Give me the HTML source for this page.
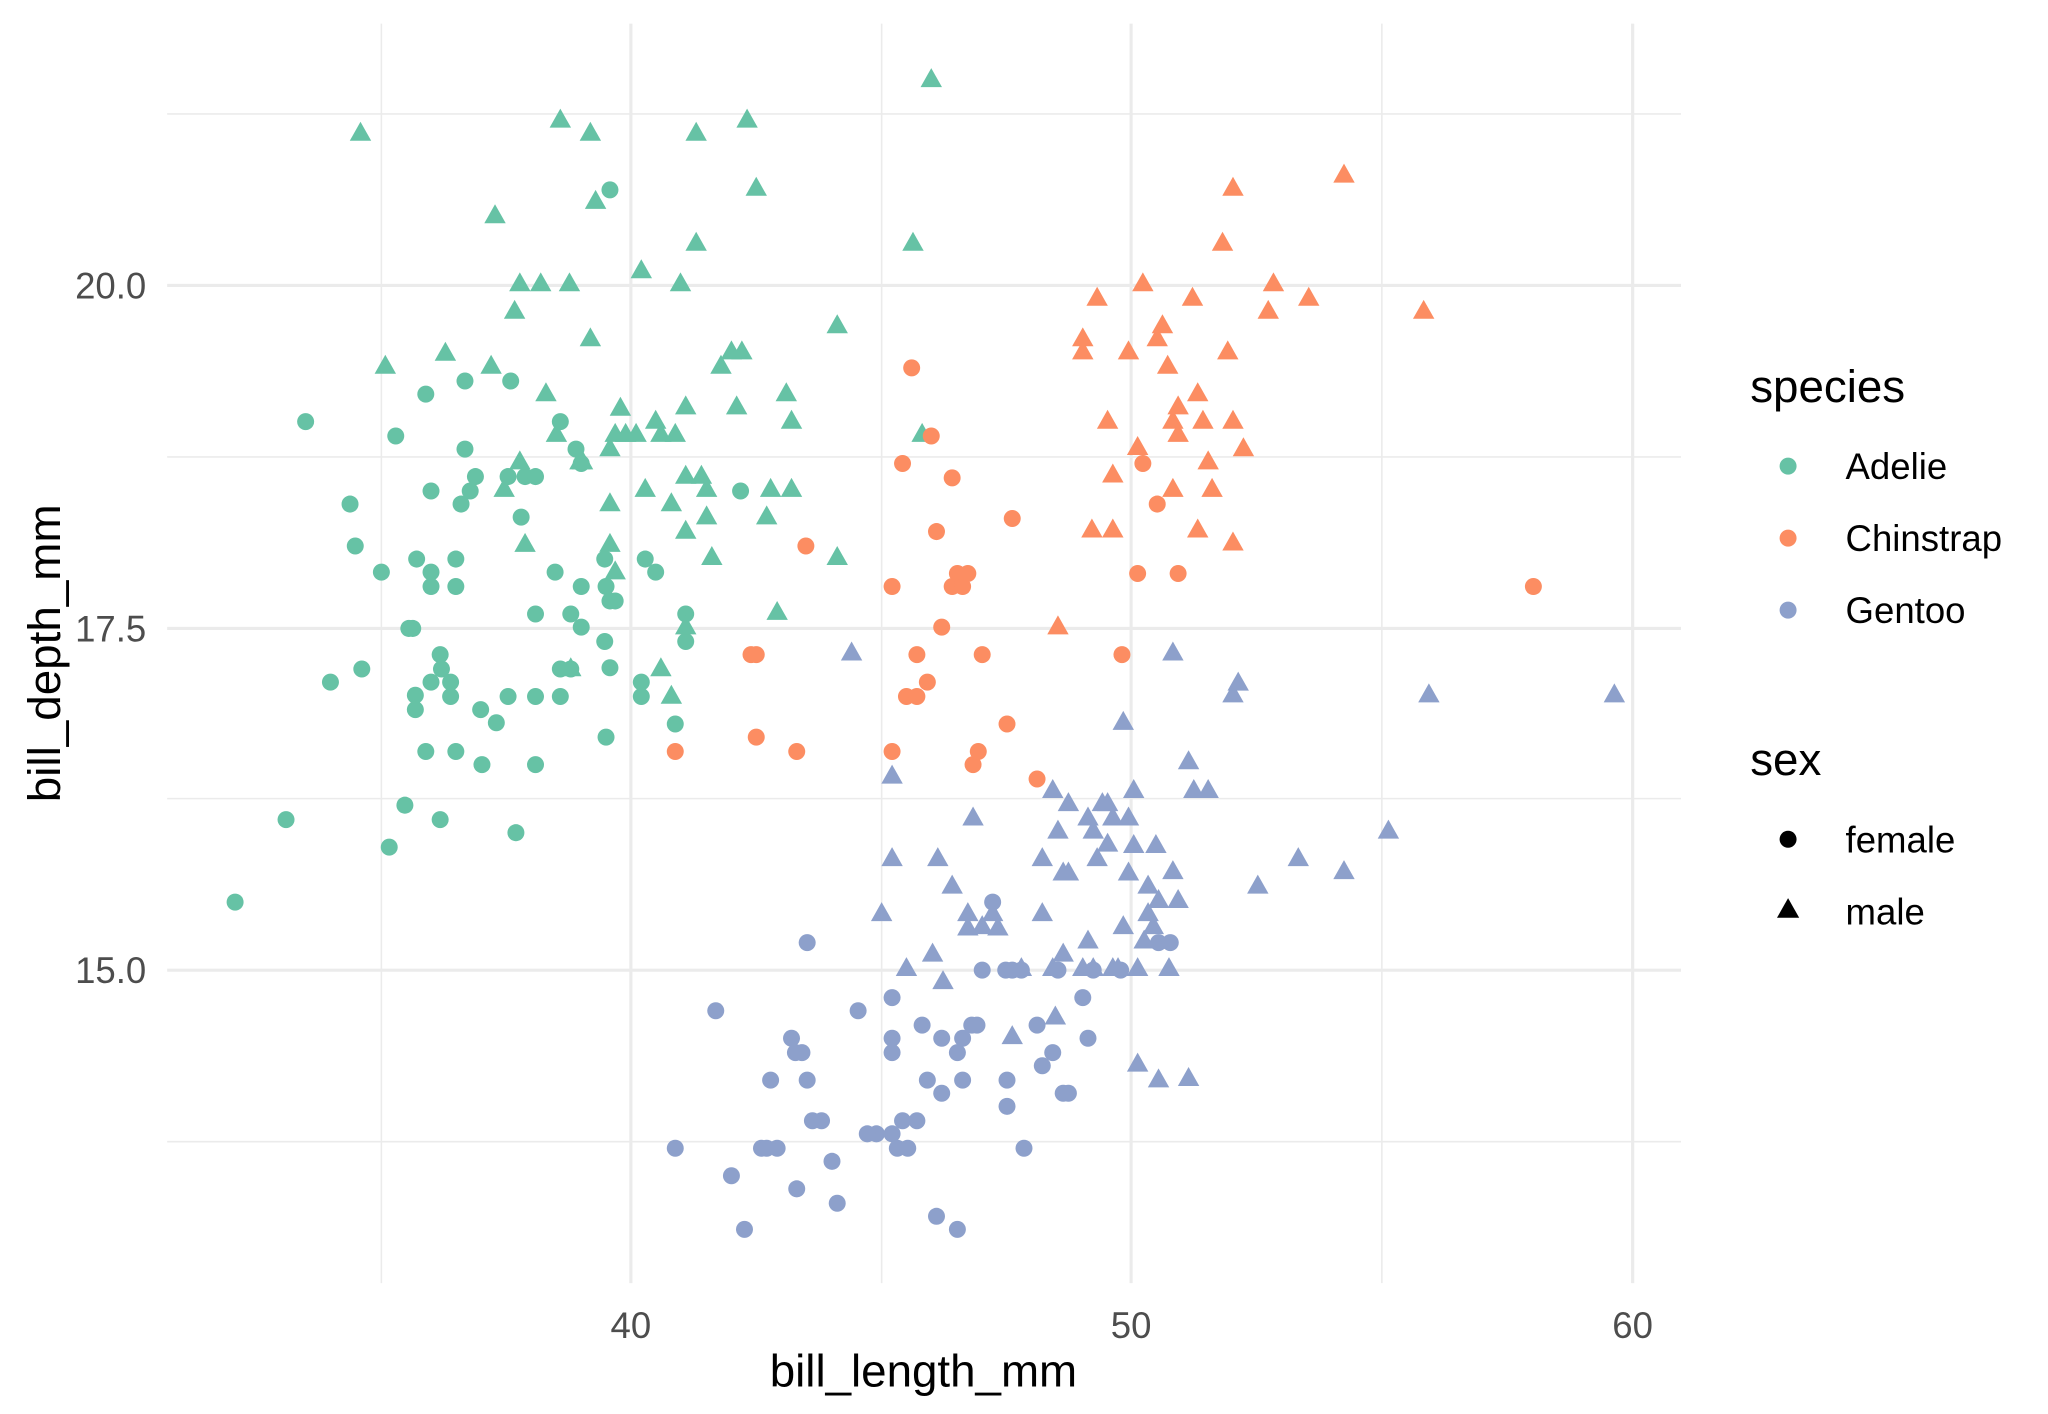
<!DOCTYPE html>
<html><head><meta charset="utf-8">
<style>
html,body{margin:0;padding:0;background:#fff;}
svg{display:block;}
text{font-family:"Liberation Sans",Arial,sans-serif;}
</style></head>
<body>
<svg width="2048" height="1414" viewBox="0 0 1568 1080" preserveAspectRatio="none" xmlns="http://www.w3.org/2000/svg">
<rect width="1568" height="1080" fill="#fff"/>
<g stroke="#ebebeb" stroke-width="1.2">
<line x1="292" y1="18" x2="292" y2="980"/><line x1="675" y1="18" x2="675" y2="980"/><line x1="1058" y1="18" x2="1058" y2="980"/>
<line x1="128" y1="87" x2="1287" y2="87"/><line x1="128" y1="349" x2="1287" y2="349"/><line x1="128" y1="610" x2="1287" y2="610"/><line x1="128" y1="872" x2="1287" y2="872"/>
</g>
<g stroke="#ebebeb" stroke-width="2.4">
<line x1="483" y1="18" x2="483" y2="980"/><line x1="866" y1="18" x2="866" y2="980"/><line x1="1250" y1="18" x2="1250" y2="980"/>
<line x1="128" y1="218" x2="1287" y2="218"/><line x1="128" y1="480" x2="1287" y2="480"/><line x1="128" y1="741" x2="1287" y2="741"/>
</g>
<g fill="#4d4d4d" style="font-size:28px">
<text x="483" y="1022" text-anchor="middle">40</text>
<text x="866" y="1022" text-anchor="middle">50</text>
<text x="1250" y="1022" text-anchor="middle">60</text>
<text x="112" y="228" text-anchor="end">20.0</text>
<text x="112" y="490" text-anchor="end">17.5</text>
<text x="112" y="751" text-anchor="end">15.0</text>
</g>
<text x="707" y="1059" text-anchor="middle" style="font-size:35px" fill="#000">bill_length_mm</text>
<text transform="translate(46,499) rotate(-90)" text-anchor="middle" style="font-size:35px" fill="#000">bill_depth_mm</text>
<g id="pts"></g>
<g style="font-size:35px" fill="#000">
<text x="1340" y="307">species</text>
<text x="1340" y="592">sex</text>
</g>
<g style="font-size:28px" fill="#000">
<text x="1413" y="366">Adelie</text>
<text x="1413" y="421">Chinstrap</text>
<text x="1413" y="476">Gentoo</text>
<text x="1413" y="651">female</text>
<text x="1413" y="706">male</text>
</g>
<circle cx="1369" cy="356" r="6.5" fill="#66c2a5"/>
<circle cx="1369" cy="411" r="6.5" fill="#fc8d62"/>
<circle cx="1369" cy="466" r="6.5" fill="#8da0cb"/>
<circle cx="1369" cy="641" r="6.5" fill="#000"/>
<polygon points="1369,686 1377.5,701 1360.5,701" fill="#000"/>
</svg>
<script>
var A="#66c2a5",C="#fc8d62",G="#8da0cb";
var ac=[[180,689],[219,626],[234,322],[253,521],[268,385],[272,417],[277,511],[292,437],[298,647],[303,333],[310,615],[313,480],[316,480],[318,531],[318,542],[319,427],[326,574],[326,301],[330,521],[330,437],[330,448],[330,375],[337,500],[338,511],[337,626],[345,521],[345,532],[349,574],[349,427],[349,448],[353,385],[356,343],[356,291],[360,375],[364,364],[368,542],[369,584],[380,552],[389,532],[389,364],[391,291],[395,636],[399,395],[402,364],[410,364],[410,469],[410,532],[410,584],[425,437],[429,322],[429,532],[429,511],[437,469],[437,511],[441,343],[445,354],[445,479],[445,448],[463,490],[463,427],[464,563],[464,448],[467,510],[467,459],[467,145],[471,459],[491,521],[491,532],[494,427],[502,437],[517,553],[525,469],[525,490],[567,375]];
var at=[[276,101],[295,279],[341,269],[376,279],[379,164],[386,373],[394,237],[398,216],[398,352],[402,415],[414,216],[418,300],[426,331],[429,91],[436,216],[437,510],[444,352],[446,352],[452,101],[452,258],[456,153],[467,342],[467,415],[467,384],[471,331],[471,436],[475,311],[487,331],[491,206],[494,373],[502,321],[506,331],[514,384],[517,331],[521,216],[525,310],[525,405],[525,363],[525,478],[533,101],[533,185],[537,363],[541,373],[541,394],[545,425],[552,279],[560,268],[564,310],[568,268],[572,91],[579,143],[587,394],[590,373],[595,467],[602,300],[606,321],[606,373],[641,248],[641,425],[699,185],[706,331],[713,60],[506,510],[514,531],[479,331]];
var cc=[[517,574],[575,500],[579,500],[579,563],[610,574],[617,417],[683,448],[683,574],[691,354],[694,532],[698,281],[702,500],[702,532],[710,521],[713,333],[717,406],[721,479],[729,365],[729,448],[733,438],[737,448],[741,438],[745,584],[749,574],[752,500],[771,553],[775,396],[794,595],[859,500],[871,438],[875,354],[886,385],[902,438],[1174,448]];
var ct=[[810,478],[829,258],[829,268],[836,404],[840,227],[848,321],[852,362],[852,404],[864,268],[871,341],[875,216],[886,258],[890,248],[894,279],[898,373],[898,321],[902,310],[902,331],[917,300],[913,227],[917,404],[921,321],[925,352],[928,373],[936,185],[940,268],[944,143],[944,321],[944,414],[952,342],[971,237],[975,216],[1002,227],[1029,133],[1090,237]];
var gc=[[517,877],[560,898],[583,877],[587,877],[590,825],[606,793],[610,908],[614,804],[618,720],[618,825],[622,856],[629,856],[637,887],[641,919],[657,772],[671,866],[683,866],[683,793],[683,762],[683,804],[687,877],[691,856],[695,877],[702,856],[706,783],[710,825],[717,929],[721,793],[721,835],[733,939],[733,804],[737,825],[737,793],[744,783],[748,783],[752,741],[760,689],[770,741],[771,825],[771,845],[775,741],[782,741],[784,877],[794,783],[798,814],[806,804],[810,741],[814,835],[818,835],[829,762],[833,793],[837,741],[858,741],[887,720],[896,720],[570,939],[595,877],[664,866],[548,772],[609,804]];
var gt=[[652,498],[683,592],[675,697],[683,655],[694,739],[714,728],[718,655],[722,749],[729,676],[741,697],[745,624],[741,708],[752,707],[760,697],[764,708],[775,791],[782,739],[798,697],[798,655],[806,603],[810,634],[814,728],[814,666],[818,613],[818,666],[833,718],[833,624],[837,634],[840,655],[844,613],[848,644],[848,613],[852,624],[856,739],[860,707],[860,551],[864,666],[864,624],[868,603],[868,645],[879,676],[879,697],[883,707],[885,645],[898,665],[898,498],[871,812],[887,687],[902,687],[910,581],[914,603],[925,603],[944,530],[948,521],[963,676],[994,655],[1029,665],[1063,634],[1094,530],[1236,530],[837,739],[806,739],[829,739],[852,739],[871,739],[895,739],[876,718],[887,824],[910,823],[808,776]];
var s="";
function circ(a,c){a.forEach(function(p){s+='<circle cx="'+p[0]+'" cy="'+p[1]+'" r="6.5" fill="'+c+'"/>';});}
function tri(a,c){a.forEach(function(p){var x=p[0],y=p[1];s+='<polygon points="'+x+','+(y-8)+' '+(x+8.2)+','+(y+6.5)+' '+(x-8.2)+','+(y+6.5)+'" fill="'+c+'"/>';});}
circ(ac,A);tri(at,A);circ(cc,C);tri(ct,C);circ(gc,G);tri(gt,G);
document.getElementById("pts").innerHTML=s;
</script>
</body></html>
